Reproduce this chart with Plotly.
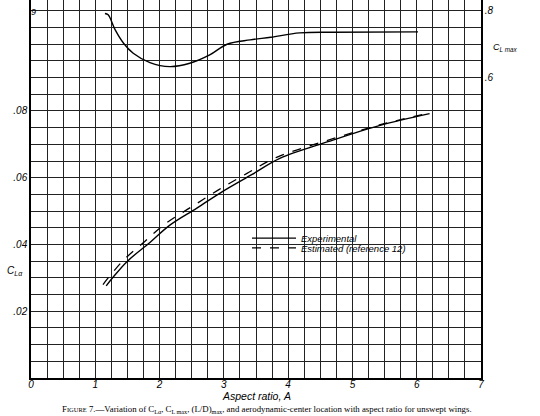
import plotly.graph_objects as go

# ---- data ----
# Lift-curve slope, experimental (solid)
exp_A = [1.17, 1.26, 1.50, 1.85, 2.16, 2.58, 2.99, 3.44, 3.87, 4.62, 5.43, 6.20]
exp_cla = [0.0276, 0.0298, 0.0350, 0.0406, 0.0458, 0.0509, 0.0560, 0.0610, 0.0658, 0.0708, 0.0757, 0.0792]
# Lift-curve slope, estimated (reference 12) (dashed)
est_A = [1.12, 1.20, 1.45, 1.77, 2.08, 2.50, 2.91, 3.36, 3.82, 4.58, 5.42, 6.22]
est_cla = [0.0280, 0.0300, 0.0355, 0.0409, 0.0461, 0.0513, 0.0563, 0.0613, 0.0661, 0.0710, 0.0758, 0.0795]
# Maximum lift coefficient (right scale)
clmax_A = [1.15, 1.20, 1.31, 1.44, 1.59, 1.85, 2.16, 2.47, 2.78, 3.05, 3.41, 3.73, 4.18, 4.70, 6.02]
clmax = [0.792, 0.788, 0.743, 0.703, 0.673, 0.645, 0.633, 0.643, 0.668, 0.700, 0.713, 0.721, 0.734, 0.736, 0.737]

x_ticks = [0, 1, 2, 3, 4, 5, 6, 7]
x_tick_text = ["0", "1", "2", "3", "4", "5", "6", "7"]
y_ticks = [0.02, 0.04, 0.06, 0.08]
y_tick_text = [".02", ".04", ".06", ".08"]
y2_ticks = [0.6, 0.8]
y2_tick_text = [".6", ".8"]

FONT = "Liberation Sans"
TICKFONT = dict(family=FONT, size=10, color="black", style="italic")
LEGFONT = dict(family=FONT, size=9.5, color="black", style="italic")

fig = go.Figure()
fig.add_trace(go.Scatter(x=exp_A, y=exp_cla, mode="lines", name="Experimental",
                         line=dict(color="black", width=1.4, shape="spline"), legend="legend"))
fig.add_trace(go.Scatter(x=est_A, y=est_cla, mode="lines", name="Estimated (reference 12)",
                         line=dict(color="black", width=1.3, dash="dash", shape="spline"), legend="legend2"))
fig.add_trace(go.Scatter(x=clmax_A, y=clmax, mode="lines", showlegend=False, yaxis="y2",
                         line=dict(color="black", width=1.4, shape="spline")))

grid = "#222222"
fig.update_layout(
    width=540, height=416,
    margin=dict(l=31, r=59, t=0, b=38),
    paper_bgcolor="white", plot_bgcolor="white",
    xaxis=dict(range=[0, 7], tickvals=x_ticks, ticktext=x_tick_text, tickfont=TICKFONT,
               ticklabelstandoff=-4,
               showgrid=True, gridcolor=grid, gridwidth=1.2,
               minor=dict(dtick=0.25, showgrid=True, gridcolor=grid, gridwidth=1.2),
               showline=True, linecolor="black", linewidth=1.5, mirror=False,
               ticks="", zeroline=False),
    yaxis=dict(range=[0, 0.11325], tickvals=y_ticks, ticktext=y_tick_text, tickfont=TICKFONT,
               showgrid=True, gridcolor=grid, gridwidth=1.2,
               minor=dict(tick0=0, dtick=0.005, showgrid=True, gridcolor=grid, gridwidth=1.2),
               showline=True, linecolor="black", linewidth=1.5, ticks="", zeroline=False),
    yaxis2=dict(range=[-0.3, 0.8325], overlaying="y", side="right", tickvals=y2_ticks,
                ticktext=y2_tick_text, tickfont=TICKFONT, showgrid=False,
                showline=True, linecolor="black", linewidth=1.5, ticks="", zeroline=False),
    legend=dict(x=0.48, y=0.370, xanchor="left", yanchor="middle", bgcolor="rgba(0,0,0,0)",
                itemwidth=44, font=LEGFONT),
    legend2=dict(x=0.48, y=0.344, xanchor="left", yanchor="middle", bgcolor="rgba(0,0,0,0)",
                 itemwidth=44, font=LEGFONT),
    showlegend=True,
)

fig.add_annotation(text="<i>Aspect ratio, A</i>", xref="paper", yref="paper", x=0.5, y=0,
                   yanchor="top", yshift=-10, showarrow=False,
                   font=dict(family=FONT, size=10.5, color="black"))
fig.add_annotation(text="<i>C<sub>Lα</sub></i>", xref="paper", yref="paper", x=0, y=(378 - 279) / 378,
                   xanchor="right", xshift=-6, showarrow=False,
                   font=dict(family=FONT, size=10, color="black"))
fig.add_annotation(text="<i>C<sub>L max</sub></i>", xref="paper", yref="paper", x=1, y=(378 - 40) / 378,
                   xanchor="left", xshift=10, showarrow=False,
                   font=dict(family=FONT, size=9, color="black"))
fig.add_annotation(text="<i>9</i>", xref="paper", yref="paper", x=0, y=(378 - 5) / 378,
                   xanchor="center", xshift=2, showarrow=False,
                   font=dict(family=FONT, size=9, color="black"))
fig.add_annotation(text="F<span style='font-size:6.5px'>IGURE</span> 7.—Variation of C<sub>Lα</sub>, C<sub>L max</sub>, (L/D)<sub>max</sub>, and aerodynamic-center location with aspect ratio for unswept wings.",
                   xref="paper", yref="paper", x=0.524, y=0, yanchor="top", yshift=-24,
                   showarrow=False, font=dict(family="Liberation Serif", size=8.8, color="black"))

fig.write_html("out.html", config={"displayModeBar": False},
               post_script="document.body.style.margin='0';document.body.style.overflow='hidden';")
